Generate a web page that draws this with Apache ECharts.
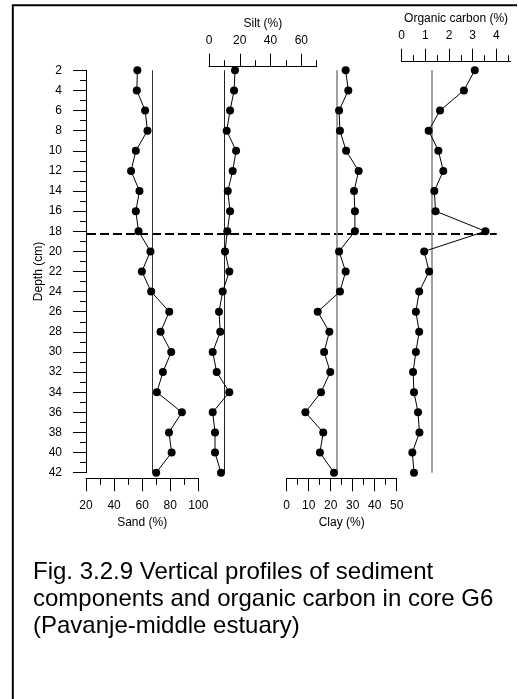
<!DOCTYPE html>
<html>
<head>
<meta charset="utf-8">
<title>Core G6 profiles</title>
<script src="https://cdn.jsdelivr.net/npm/echarts@6/dist/echarts.min.js"></script>
<style>
  html, body { margin: 0; padding: 0; background: #fff; }
  #chart { width: 519px; height: 699px; }
</style>
</head>
<body>
<div id="chart"></div>
<script>
// Sampling depths down core G6 (cm)
const depths = [2, 4, 6, 8, 10, 12, 14, 16, 18, 20, 22, 24, 26, 28, 30, 32, 34, 36, 38, 40, 42];

// Sediment components (%) and organic carbon (%) at each depth
const sand = [56.6, 56.2, 62.1, 63.8, 55.5, 52.1, 58.1, 55.5, 57.4, 65.9, 59.8, 66.4, 79.3, 73.1, 80.7, 74.8, 70.5, 88.3, 79.1, 81.0, 70.0];
const silt = [16.9, 16.3, 13.7, 11.5, 17.6, 15.4, 12.2, 13.7, 11.9, 10.4, 13.2, 8.9, 6.5, 7.3, 2.4, 5.0, 13.2, 2.4, 3.9, 3.9, 7.8];
const clay = [26.8, 28.0, 23.8, 24.2, 27.0, 32.7, 30.6, 31.0, 31.0, 23.8, 26.8, 24.2, 14.1, 19.4, 17.0, 19.8, 15.6, 8.5, 16.6, 15.1, 21.5];
const organicCarbon = [3.09, 2.63, 1.62, 1.14, 1.55, 1.76, 1.38, 1.43, 3.54, 0.95, 1.16, 0.74, 0.60, 0.74, 0.60, 0.48, 0.52, 0.69, 0.75, 0.45, 0.52];

// Depth of the marked boundary (dashed line)
const boundaryDepth = [18.27];

// Axis ranges and tick values
const depthRange = [2, 42];
const sandRange = [20, 100];
const sandTicks = [20, 40, 60, 80, 100];
const sandMinorTicks = [30, 50, 70, 90];
const siltRange = [0, 70];
const siltTicks = [0, 20, 40, 60];
const siltMinorTicks = [10, 30, 50, 70];
const clayRange = [0, 50];
const clayTicks = [0, 10, 20, 30, 40, 50];
const clayMinorTicks = [5, 15, 25, 35, 45];
const ocRange = [0, 4.6];
const ocTicks = [0, 1, 2, 3, 4];
const ocMinorTicks = [0.5, 1.5, 2.5, 3.5, 4.5];

const FONT = "'Liberation Sans', Arial, sans-serif";
const mean = arr => arr.reduce((a, b) => a + b, 0) / arr.length;

const chart = echarts.init(document.getElementById('chart'), null, { renderer: 'canvas' });

const TOP = 70.3, HEIGHT = 402.4;
const panels = [
  { left: 86,    width: 112.3 },  // sand
  { left: 209,   width: 107.7 },  // silt
  { left: 286.7, width: 110 },    // clay
  { left: 401.7, width: 108.8 },  // organic carbon
  { left: 87,    width: 409.7 }   // boundary line
];

const grids = panels.map(p => ({ left: p.left, width: p.width, top: TOP, height: HEIGHT, containLabel: false }));

function majorAxis(gridIndex, position, offset, range, ticks, name, labelMargin, nameGap) {
  return {
    type: 'value', gridIndex, position, offset,
    min: range[0], max: range[1],
    axisLine: { show: true, onZero: false, lineStyle: { color: '#000', width: 1 } },
    axisTick: { show: true, inside: false, length: 13, customValues: ticks, lineStyle: { color: '#000', width: 1 } },
    axisLabel: { show: true, customValues: ticks, margin: labelMargin, color: '#000', fontSize: 12, fontFamily: FONT },
    splitLine: { show: false },
    name, nameLocation: 'middle', nameGap,
    nameTextStyle: { color: '#000', fontSize: 12, fontFamily: FONT }
  };
}
function minorAxis(gridIndex, position, offset, range, ticks) {
  return {
    type: 'value', gridIndex, position, offset,
    min: range[0], max: range[1],
    axisLine: { show: false, onZero: false },
    axisTick: { show: true, inside: false, length: 6.5, customValues: ticks, lineStyle: { color: '#000', width: 1 } },
    axisLabel: { show: false },
    splitLine: { show: false }
  };
}

const xAxes = [
  majorAxis(0, 'bottom', 5.6, sandRange, sandTicks, 'Sand (%)', 21, 33),
  minorAxis(0, 'bottom', 5.6, sandRange, sandMinorTicks),
  majorAxis(1, 'top', 3.6, siltRange, siltTicks, 'Silt (%)', 20, 33),
  minorAxis(1, 'top', 3.6, siltRange, siltMinorTicks),
  majorAxis(2, 'bottom', 5.6, clayRange, clayTicks, 'Clay (%)', 21, 33),
  minorAxis(2, 'bottom', 5.6, clayRange, clayMinorTicks),
  majorAxis(3, 'top', 8.6, ocRange, ocTicks, 'Organic carbon (%)', 20, 32),
  minorAxis(3, 'top', 8.6, ocRange, ocMinorTicks),
  { type: 'value', gridIndex: 4, min: 0, max: 1, show: false }
];

const yAxes = [0, 1, 2, 3, 4].map(i => {
  if (i === 0) {
    return {
      type: 'value', gridIndex: 0, position: 'left', inverse: true,
      min: depthRange[0], max: depthRange[1], interval: 2,
      axisLine: { show: true, onZero: false, lineStyle: { color: '#000', width: 1 } },
      axisTick: { show: true, length: 13, lineStyle: { color: '#000', width: 1 } },
      minorTick: { show: true, splitNumber: 2, length: 6, lineStyle: { color: '#000', width: 1 } },
      axisLabel: { margin: 24, color: '#000', fontSize: 12, fontFamily: FONT },
      splitLine: { show: false }, minorSplitLine: { show: false },
      name: 'Depth (cm)', nameLocation: 'middle', nameGap: 41, nameRotate: 90,
      nameTextStyle: { color: '#000', fontSize: 12, fontFamily: FONT }
    };
  }
  return { type: 'value', gridIndex: i, inverse: true, min: depthRange[0], max: depthRange[1], show: false };
});

function profile(name, values, xAxisIndex, yAxisIndex, meanColor, meanWidth) {
  return {
    name, type: 'line', xAxisIndex, yAxisIndex,
    data: values.map((v, i) => [v, depths[i]]),
    symbol: 'circle', symbolSize: 8, showSymbol: true,
    itemStyle: { color: '#000' },
    lineStyle: { color: '#000', width: 1 },
    emphasis: { disabled: true },
    z: 5,
    markLine: {
      silent: true, symbol: 'none', label: { show: false },
      lineStyle: { color: meanColor, width: meanWidth, type: 'solid' },
      data: [{ xAxis: mean(values) }]
    }
  };
}

const series = [
  profile('Sand', sand, 0, 0, '#333', 1),
  profile('Silt', silt, 2, 1, '#222', 1),
  profile('Clay', clay, 4, 2, '#808080', 1.5),
  profile('Organic carbon', organicCarbon, 6, 3, '#808080', 1.5),
  {
    name: 'Boundary', type: 'line', xAxisIndex: 8, yAxisIndex: 4,
    data: [[0, boundaryDepth[0]], [1, boundaryDepth[0]]],
    showSymbol: false, symbol: 'none',
    lineStyle: { color: '#000', width: 2, type: [9, 4] },
    emphasis: { disabled: true }, z: 4
  }
];

chart.setOption({
  animation: false,
  backgroundColor: '#fff',
  textStyle: { fontFamily: FONT },
  grid: grids,
  xAxis: xAxes,
  yAxis: yAxes,
  series,
  graphic: [
    {
      type: 'polyline', silent: true,
      shape: { points: [[12.8, 699], [12.8, 5.2], [517, 5.2]] },
      style: { stroke: '#000', lineWidth: 2, fill: null }
    },
    {
      type: 'text', left: 33, top: 559, silent: true,
      style: {
        text: 'Fig. 3.2.9 Vertical profiles of sediment\ncomponents and organic carbon in core G6\n(Pavanje-middle estuary)',
        font: "24px 'Liberation Sans', Arial, sans-serif",
        lineHeight: 27, fill: '#000'
      }
    }
  ]
});
</script>
</body>
</html>
